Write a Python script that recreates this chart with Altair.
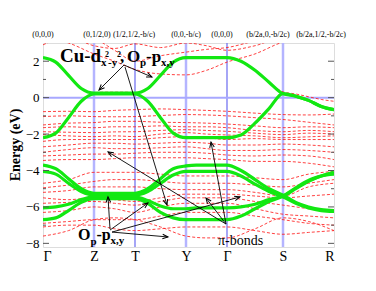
import math
import altair as alt
import pandas as pd

# ---------------- k-path ----------------
SYM_K = [0, 51, 92, 143, 184, 240, 291]
SYM_NAMES = ["Γ", "Z", "T", "Y", "Γ", "S", "R"]
TOP_TEXT = ["(0,0,0)", "(0,1/2,0)", "(1/2,1/2,-b/c)", "(0,0,-b/c)", "(0,0,0)",
            "(b/2a,0,-b/2c)", "(b/2a,1/2,-b/2c)"]
TOP_K = [0, 54, 91, 143, 179, 225, 278]

K13 = [0, 25.5, 51, 71.5, 92, 117.5, 143, 163.5, 184, 212, 240, 265.5, 291]
K25 = [0, 12.75, 25.5, 38.25, 51, 61.25, 71.5, 81.75, 92, 104.75, 117.5, 130.25,
       143, 153.25, 163.5, 173.75, 184, 198, 212, 226, 240, 252.75, 265.5, 278.25, 291]

# ---------------- green (fitted) bands, on K25 ----------------
G1 = [2.2, 1.95, 1.22, 0.5, 0.25, 0.25, 0.25, 0.25, 0.25, 0.5, 1.22, 1.95,
      2.2, 2.2, 2.2, 2.2, 2.2, 2.0, 1.5, 0.85, 0.22, 0.08, -0.15, -0.48, -0.66]
G2 = [-2.2, -1.95, -1.1, -0.2, 0.2, 0.2, 0.2, 0.2, 0.2, -0.2, -1.1, -1.95,
      -2.2, -2.2, -2.2, -2.2, -2.2, -2.05, -1.4, -0.6, 0.22, 0.08, -0.15, -0.48, -0.66]
G3 = [-3.7, -3.9, -4.45, -5.0, -5.25, -5.25, -5.25, -5.25, -5.25, -5.0, -4.45, -3.9,
      -3.75, -3.7, -3.7, -3.7, -3.7, -4.0, -4.5, -5.0, -5.35, -5.75, -6.0, -6.15, -6.2]
G4 = [-4.05, -4.2, -4.7, -5.15, -5.35, -5.35, -5.35, -5.35, -5.35, -5.15, -4.7, -4.25,
      -4.05, -4.05, -4.05, -4.05, -4.05, -4.3, -4.75, -5.15, -5.45, -5.8, -6.05, -6.2, -6.25]
G5 = [-6.05, -6.0, -5.85, -5.6, -5.45, -5.45, -5.45, -5.45, -5.45, -5.65, -5.95, -6.1,
      -6.1, -6.05, -6.05, -6.05, -6.05, -6.0, -5.85, -5.6, -5.4, -5.0, -4.6, -4.3, -4.2]
G6 = [-6.7, -6.6, -6.2, -5.75, -5.55, -5.55, -5.55, -5.55, -5.55, -5.8, -6.3, -6.6,
      -6.7, -6.7, -6.7, -6.7, -6.7, -6.5, -6.1, -5.7, -5.4, -4.95, -4.55, -4.3, -4.1]
R_S = [2.2, 1.95, 1.22, 0.5, 0.28, 0.3, 0.3, 0.3, 0.28, 0.5, 1.22, 1.95,
       2.2, 2.2, 2.2, 2.2, 2.2, 2.0, 1.5, 0.85, 0.32, 0.2, 0.05, -0.1, -0.2]

# ---------------- red (LDA) bands, on K13 ----------------
RU1 = [2.9, 3.3, 2.85, 2.7, 2.95, 2.75, 3.0, 2.85, 2.6, 2.85, 3.3, 3.3, 3.3]
RU2 = [3.3, 3.0, 2.4, 2.0, 1.55, 1.3, 1.25, 1.5, 1.95, 2.4, 3.05, 3.3, 3.3]
RU3 = [3.3, 3.3, 3.2, 2.6, 2.0, 2.3, 2.5, 2.65, 2.75, 3.1, 3.3, 3.3, 3.3]
M1 = [-0.77, -0.75, -0.77, -0.7, -0.66, -0.62, -0.66, -0.7, -0.75, -0.85, -0.93, -0.95, -0.9]
M2 = [-1.04, -1.0, -1.04, -1.05, -1.04, -0.98, -0.93, -0.95, -1.0, -1.1, -1.2, -1.35, -1.5]
M3 = [-1.5, -1.4, -1.37, -1.3, -1.3, -1.35, -1.37, -1.4, -1.45, -1.55, -1.65, -1.6, -1.65]
M4 = [-1.65, -1.6, -1.65, -1.6, -1.6, -1.55, -1.6, -1.6, -1.65, -1.8, -1.87, -1.8, -1.87]
M5 = [-1.87, -1.9, -1.92, -1.88, -1.87, -1.8, -1.76, -1.8, -1.85, -1.95, -2.03, -1.95, -2.0]
M6 = [-2.03, -2.1, -2.14, -2.1, -2.14, -2.0, -1.92, -2.0, -2.05, -2.1, -2.2, -2.15, -2.1]
M7 = [-2.4, -2.3, -2.3, -2.3, -2.3, -2.2, -2.14, -2.2, -2.3, -2.25, -2.3, -2.3, -2.3]
M8 = [-2.7, -2.6, -2.5, -2.5, -2.55, -2.5, -2.45, -2.5, -2.6, -2.6, -2.55, -2.6, -2.7]
M9 = [-3.0, -2.85, -2.75, -2.8, -2.8, -2.75, -2.7, -2.8, -2.9, -2.9, -2.85, -2.9, -3.0]
M10 = [-3.2, -3.15, -3.1, -3.1, -3.05, -3.0, -3.0, -3.05, -3.15, -3.2, -3.15, -3.2, -3.4]
M11 = [-3.45, -3.4, -3.4, -3.35, -3.3, -3.3, -3.3, -3.35, -3.4, -3.5, -3.5, -3.6, -3.8]
L1 = [-4.7, -4.5, -4.1, -4.1, -4.1, -4.2, -4.3, -4.3, -4.3, -4.4, -4.5, -4.2, -4.05]
L2 = [-4.95, -4.8, -4.6, -4.5, -4.5, -4.6, -4.7, -4.7, -4.7, -4.8, -4.9, -4.7, -4.5]
L3 = [-5.2, -5.1, -4.9, -4.9, -4.9, -5.0, -5.05, -5.05, -5.05, -5.2, -5.4, -4.9, -4.7]
L4 = [-5.5, -5.6, -5.5, -5.6, -5.7, -5.5, -5.3, -5.3, -5.3, -5.4, -5.5, -5.4, -5.3]
L5 = [-5.8, -5.75, -5.7, -5.8, -5.9, -5.7, -5.5, -5.5, -5.5, -5.7, -5.9, -6.1, -6.3]
L6 = [-6.3, -6.2, -6.0, -6.1, -6.3, -6.0, -5.8, -5.8, -5.8, -6.1, -6.4, -6.5, -6.6]
L7 = [-6.9, -6.8, -6.7, -6.7, -6.7, -6.5, -6.3, -6.3, -6.3, -6.5, -6.7, -6.9, -7.0]
L8 = [-7.6, -7.3, -6.7, -6.6, -6.7, -7.1, -7.6, -7.7, -7.7, -7.2, -6.6, -6.8, -7.3]
L9 = [-7.1, -7.0, -7.0, -7.2, -7.3, -7.2, -7.1, -7.1, -7.1, -7.3, -7.5, -7.4, -7.3]

# ---------------- guides ----------------
LIGHT_K = [51, 143, 240]
DARK_K = [92, 184]
Y_MAJOR = [-8, -6, -4, -2, 0, 2]
Y_MINOR = [-7, -5, -3, -1, 1]

# ---------------- annotations (data units) ----------------
ARROW_K0 = [81, 81, 82, 183, 183, 183, 67, 67, 69, 69]
ARROW_E0 = [1.79, 1.79, 1.68, -6.94, -6.94, -6.94, -7.21, -7.27, -7.38, -7.38]
ARROW_K1 = [56, 109, 124, 65, 168, 163, 65, 105, 197, 125]
ARROW_E1 = [0.42, 1.13, -5.89, -2.98, -2.44, -5.51, -5.45, -5.78, -5.45, -7.65]

LBL_TEXT = ["Cu-d", "x", "2", "-y", "2", ",", "O", "p", "-p", "x,y",
            "O", "p", "-p", "x,y"]
LBL_K = [17, 58, 62, 65, 74, 77, 84, 97, 103, 118,
         35, 47.5, 53.5, 67.5]
LBL_E = [1.96, 1.76, 2.25, 1.76, 2.25, 1.96, 1.96, 1.74, 1.96, 1.76,
         -7.82, -8.07, -7.82, -8.04]
LBL_SIZE = [19, 11, 8, 11, 8, 17, 17, 11, 17, 11,
            16, 11, 16, 11]

PI_TEXT = ["π-bonds"]
PI_K = [175]
PI_E = [-8.09]

W, H = 291, 204
YMIN, YMAX = -8.2, 3.0
SERIF = "Liberation Serif"

# ---------------- assemble tables ----------------
rows = []
green_sets = [("G1", G1), ("G2", G2), ("G3", G3), ("G4", G4), ("G5", G5), ("G6", G6)]
red25 = [("RS", R_S)]
red13 = [("RU1", RU1), ("RU2", RU2), ("RU3", RU3), ("M1", M1), ("M2", M2), ("M3", M3),
         ("M4", M4), ("M5", M5), ("M6", M6), ("M7", M7), ("M8", M8), ("M9", M9),
         ("M10", M10), ("M11", M11), ("L1", L1), ("L2", L2), ("L3", L3), ("L4", L4),
         ("L5", L5), ("L6", L6), ("L7", L7), ("L8", L8), ("L9", L9)]
for name, vals in green_sets:
    for k, e in zip(K25, vals):
        rows.append({"band": name, "k": k, "E": e, "kind": "green"})
for name, vals in red25:
    for k, e in zip(K25, vals):
        rows.append({"band": name, "k": k, "E": e, "kind": "red"})
for name, vals in red13:
    for k, e in zip(K13, vals):
        rows.append({"band": name, "k": k, "E": e, "kind": "red"})
bands = pd.DataFrame(rows)
red_df = bands[bands.kind == "red"]
green_df = bands[bands.kind == "green"]

xs = alt.Scale(domain=[0, W], nice=False, zero=False)
ys = alt.Scale(domain=[YMIN, YMAX], nice=False, zero=False)

label_expr = " : ".join(
    [f"datum.value == {k} ? '{n}'" for k, n in zip(SYM_K, SYM_NAMES)]) + " : ''"
x_axis = alt.Axis(values=SYM_K, labelExpr=label_expr, ticks=False, domain=False,
                  grid=False, labelFont=SERIF, labelFontSize=14, labelColor="black",
                  labelPadding=2, title=None, labelAngle=0)
y_axis = alt.Axis(values=Y_MAJOR, ticks=False, domain=False, grid=False,
                  labelFont=SERIF, labelFontSize=13, labelColor="black",
                  labelPadding=4, title=None)
X = alt.X("k:Q", scale=xs, axis=x_axis)
Y = alt.Y("E:Q", scale=ys, axis=y_axis)

vlight = alt.Chart(pd.DataFrame({"k": LIGHT_K})).mark_rule(
    color="#b4b4ff", strokeWidth=2.5).encode(x=alt.X("k:Q", scale=xs, axis=x_axis),
                                             y=alt.value(0), y2=alt.value(H))
vdark = alt.Chart(pd.DataFrame({"k": DARK_K})).mark_rule(
    color="#6a6af0", strokeWidth=1.2).encode(x=alt.X("k:Q", scale=xs, axis=x_axis),
                                             y=alt.value(0), y2=alt.value(H))
hzero = alt.Chart(pd.DataFrame({"E": [0]})).mark_rule(
    color="#a8a8ff", strokeWidth=2).encode(y=alt.Y("E:Q", scale=ys, axis=y_axis),
                                          x=alt.value(0), x2=alt.value(W))

red = alt.Chart(red_df).mark_line(
    color="#ff2020", strokeWidth=1, strokeDash=[3, 2], interpolate="monotone",
    clip=True, opacity=0.85).encode(x=X, y=Y, detail="band:N", order="k:Q")
green = alt.Chart(green_df).mark_line(
    color="#12e812", strokeWidth=3.2, interpolate="monotone", clip=True).encode(
    x=X, y=Y, detail="band:N", order="k:Q")

# inner ticks
tl_major = alt.Chart(pd.DataFrame({"E": Y_MAJOR})).mark_rule(color="#555").encode(
    y=alt.Y("E:Q", scale=ys, axis=y_axis), x=alt.value(0), x2=alt.value(6))
tl_minor = alt.Chart(pd.DataFrame({"E": Y_MINOR})).mark_rule(color="#555").encode(
    y=alt.Y("E:Q", scale=ys, axis=y_axis), x=alt.value(0), x2=alt.value(3))
tr_major = alt.Chart(pd.DataFrame({"E": Y_MAJOR})).mark_rule(color="#555").encode(
    y=alt.Y("E:Q", scale=ys, axis=y_axis), x=alt.value(W - 6), x2=alt.value(W))
tr_minor = alt.Chart(pd.DataFrame({"E": Y_MINOR})).mark_rule(color="#555").encode(
    y=alt.Y("E:Q", scale=ys, axis=y_axis), x=alt.value(W - 3), x2=alt.value(W))

# arrows
arr = pd.DataFrame({"k0": ARROW_K0, "E0": ARROW_E0, "k1": ARROW_K1, "E1": ARROW_E1})
pxu = H / (YMAX - YMIN)
arr["ang"] = [
    (math.degrees(math.atan2((b - a), (d - c) * pxu)) + 360) % 360
    for a, b, c, d in zip(arr.k0, arr.k1, arr.E0, arr.E1)]
arrow_lines = alt.Chart(arr).mark_rule(color="black", strokeWidth=0.9).encode(
    x=alt.X("k0:Q", scale=xs, axis=x_axis), y=alt.Y("E0:Q", scale=ys, axis=y_axis),
    x2="k1:Q", y2="E1:Q")
arrow_heads = alt.Chart(arr).mark_point(
    shape="M-0.42,1L0,0L0.42,1", filled=False, color="black", strokeWidth=1,
    size=120, opacity=1).encode(
    x=alt.X("k1:Q", scale=xs, axis=x_axis), y=alt.Y("E1:Q", scale=ys, axis=y_axis),
    angle=alt.Angle("ang:Q", scale=None))

lbl = pd.DataFrame({"t": LBL_TEXT, "k": LBL_K, "E": LBL_E, "s": LBL_SIZE})
labels = alt.Chart(lbl).mark_text(
    font=SERIF, fontWeight="bold", align="left", baseline="alphabetic",
    color="black").encode(x=X, y=Y, text="t:N", size=alt.Size("s:Q", scale=None))
pi_lbl = alt.Chart(pd.DataFrame({"t": PI_TEXT, "k": PI_K, "E": PI_E})).mark_text(
    font=SERIF, fontSize=14, align="left", baseline="alphabetic",
    color="black").encode(x=X, y=Y, text="t:N")

top = alt.Chart(pd.DataFrame({"t": TOP_TEXT, "k": TOP_K})).mark_text(
    font=SERIF, fontSize=8, align="center", baseline="alphabetic",
    color="black").encode(x=alt.X("k:Q", scale=xs, axis=x_axis), y=alt.value(-6),
                          text="t:N")
ytitle = alt.Chart(pd.DataFrame({"t": ["Energy (eV)"]})).mark_text(
    font=SERIF, fontSize=14, fontWeight="bold", angle=270, align="center",
    baseline="middle", color="black").encode(
    x=alt.value(-27), y=alt.value(H / 2), text="t:N")

chart = alt.layer(
    vlight, vdark, hzero, red, green, tl_major, tl_minor, tr_major, tr_minor,
    arrow_lines, arrow_heads, labels, pi_lbl, top, ytitle
).properties(
    width=W, height=H,
    padding={"left": 35, "top": 35, "right": 34, "bottom": 36},
    autosize=alt.AutoSizeParams(type="none"),
).configure_view(stroke="#555", strokeWidth=1.2).configure(background="white")

chart.save("out.html", embed_options={"renderer": "svg", "actions": False})
